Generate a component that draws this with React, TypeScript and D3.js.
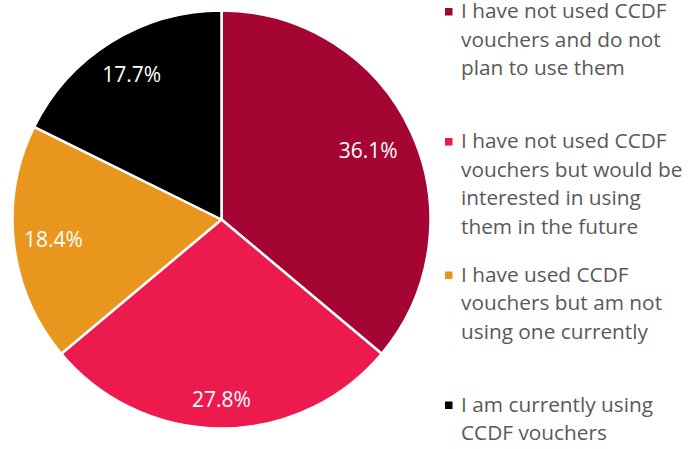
import React from "react";
import * as d3 from "d3";

const categories = [
  "I have not used CCDF vouchers and do not plan to use them",
  "I have not used CCDF vouchers but would be interested in using them in the future",
  "I have used CCDF vouchers but am not using one currently",
  "I am currently using CCDF vouchers",
];
const legendLines = [
  ["I have not used CCDF", "vouchers and do not", "plan to use them"],
  ["I have not used CCDF", "vouchers but would be", "interested in using", "them in the future"],
  ["I have used CCDF", "vouchers but am not", "using one currently"],
  ["I am currently using", "CCDF vouchers"],
];
const values = [36.1, 27.8, 18.4, 17.7];
const colors = ["#A50533", "#ED1A4D", "#E9961E", "#000000"];
const labelRadiusFactor = [0.775, 0.86, 0.81, 0.815];
const legendFirstBaseline = [18, 148, 281.5, 411.5];

const W = 700;
const H = 449;
const cx = 221.5;
const cy = 219.5;
const R = 209;
const LINE_H = 28.5;

export default function App() {
  const pie = d3.pie<number>().sort(null).value((d) => d)(values);
  const arc = d3.arc<d3.PieArcDatum<number>>().innerRadius(0).outerRadius(R);
  return (
    <svg
      width={W}
      height={H}
      style={{ position: "absolute", left: 0, top: 0, fontFamily: "'Open Sans', sans-serif" }}
    >
      <rect width={W} height={H} fill="#fff" />
      <g transform={`translate(${cx},${cy})`}>
        {pie.map((p, i) => (
          <path key={i} d={arc(p) || ""} fill={colors[i]} stroke="#fff" strokeWidth={2.5} strokeLinejoin="round" />
        ))}
        {pie.map((p, i) => {
          const a = (p.startAngle + p.endAngle) / 2;
          const r = R * labelRadiusFactor[i];
          return (
            <text
              key={i}
              x={Math.sin(a) * r}
              y={-Math.cos(a) * r}
              dy="0.35em"
              textAnchor="middle"
              fill="#fff"
              fontSize={21}
            >
              {values[i].toFixed(1)}%
            </text>
          );
        })}
      </g>
      {categories.map((c, i) => (
        <g key={c}>
          <rect x={445} y={legendFirstBaseline[i] - 10} width={7.5} height={7.5} fill={colors[i]} />
          <text fill="#595959" fontSize={20.8}>
            {legendLines[i].map((l, j) => (
              <tspan key={j} x={461} y={legendFirstBaseline[i] + j * LINE_H}>
                {l}
              </tspan>
            ))}
          </text>
        </g>
      ))}
    </svg>
  );
}
